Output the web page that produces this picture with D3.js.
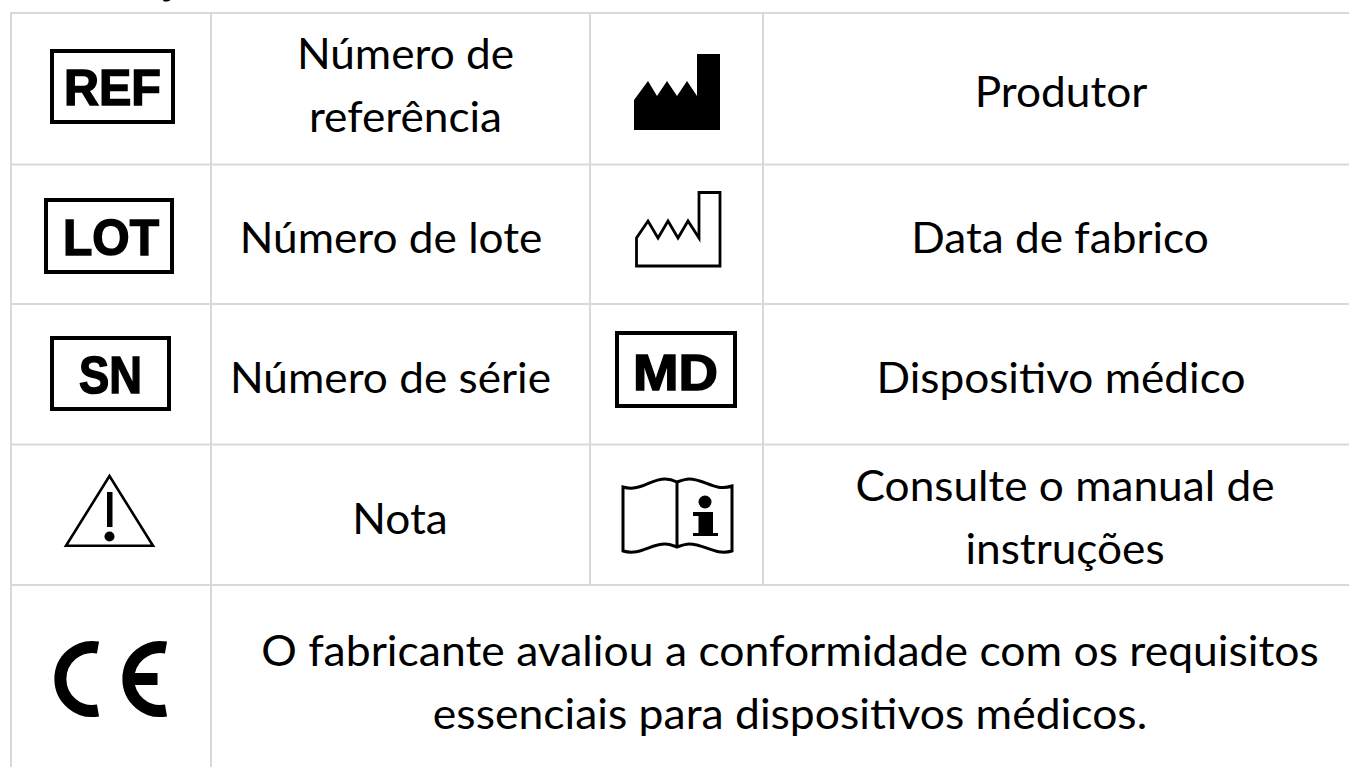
<!DOCTYPE html>
<html><head><meta charset="utf-8">
<script src="https://cdn.jsdelivr.net/npm/d3@7"></script>
<style>html,body{margin:0;background:#fff;overflow:hidden}svg{display:block}</style>
</head><body><svg id="c" width="1349" height="767"></svg>
<script>
const symbolsLeft = ["REF","LOT","SN","warn"];
const labelsLeft = [["Número de","referência"],["Número de lote"],["Número de série"],["Nota"]];
const symbolsRight = ["factoryFill","factoryLine","MD","book"];
const labelsRight = [["Produtor"],["Data de fabrico"],["Dispositivo médico"],["Consulte o manual de","instruções"]];
const footerSymbol = "CE";
const footerLabel = ["O fabricante avaliou a conformidade com os requisitos","essenciais para dispositivos médicos."];

// layout
const W=1349,H=767,LINE="#d9d9d9",FONT="Lato, 'Open Sans', sans-serif",FS=42,SX=1.052;
const xEdges=[11,211,590,763,1349], yEdges=[13,164.5,304,444.5,585,767];
const leftPos=[[405.5,68.7],[391,252.7],[390.5,392.7],[400,534]];
const rightPos=[[1061,106.7],[1060,252.7],[1061,392.7],[1065,500.7]];
const LH=63;

const svg=d3.select("#c");
const g=svg.append("g");

yEdges.slice(0,5).forEach(y=>g.append("line").attr("x1",10).attr("x2",W).attr("y1",y).attr("y2",y).attr("stroke",LINE).attr("stroke-width",2));
[[xEdges[0],13,767],[xEdges[1],13,767],[xEdges[2],13,585],[xEdges[3],13,585]].forEach(([x,a,b])=>
  g.append("line").attr("x1",x).attr("x2",x).attr("y1",a).attr("y2",b).attr("stroke",LINE).attr("stroke-width",2));

svg.append("text").attr("x",170).attr("y",-6).attr("text-anchor","middle").attr("font-family",FONT).attr("font-weight",700).attr("font-size",41).text("j");

function label(lines,cx,y0,fs,sx){
  const t=g.append("g").attr("transform",`translate(${cx},${y0}) scale(${sx},1)`);
  t.selectAll("text").data(lines).join("text")
   .attr("text-anchor","middle").attr("font-family",FONT).attr("font-size",fs).attr("fill","#000")
   .attr("y",(d,i)=>i*LH).text(d=>d);
}
function boxed(code,x,y,w,h,sw,fs,cx,base,len){
  const a=g.append("g");
  a.append("rect").attr("x",x+sw/2).attr("y",y+sw/2).attr("width",w-sw).attr("height",h-sw).attr("fill","#fff").attr("stroke","#000").attr("stroke-width",sw);
  a.append("text").attr("x",cx).attr("y",base).attr("text-anchor","middle").attr("font-family","'Liberation Sans',Arial,sans-serif").attr("font-weight",700).attr("font-size",fs)
   .attr("textLength",len).attr("lengthAdjust","spacingAndGlyphs")
   .attr("stroke","#000").attr("stroke-width",1.5).text(code);
}
const icons={
 REF:()=>boxed("REF",50,49,125,75,4,50,112.5,104.5,97),
 LOT:()=>boxed("LOT",44,198,130,76,4,50,111,254.5,96),
 SN:()=>boxed("SN",50,336,121,75,4,51,110.5,392.5,63),
 MD:()=>boxed("MD",615,331,122,77,4,50,675.5,389.5,85),
 warn:()=>{const a=g.append("g");
   a.append("path").attr("d","M109.5,476 L66,545.8 L153,545.8 Z").attr("fill","none").attr("stroke","#000").attr("stroke-width",2.6);
   a.append("rect").attr("x",107).attr("y",492).attr("width",5.5).attr("height",35);
   a.append("circle").attr("cx",109.5).attr("cy",536.5).attr("r",5);},
 factoryFill:()=>g.append("path").attr("d","M634,130 L634,100 L648,81 L657,96 L667,81 L677,96 L687,81 L697,96 L697,54 L720,54 L720,130 Z").attr("fill","#000"),
 factoryLine:()=>g.append("path").attr("d","M636.5,266 L636.5,238 L648,221 L658,238 L668,221 L678,238 L688,221 L699,238 L699,192.5 L720,192.5 L720,266 Z").attr("fill","#fff").attr("stroke","#000").attr("stroke-width",2.8),
 book:()=>{const a=g.append("g");
   a.append("path").attr("d","M623,487 C640,492 650,479 665,479 C670,479 675,481 677,482 C680,481 685,479 689,479 C705,479 715,492 732,486 L732,551 C715,556 705,544 689,544 C685,544 680,546 677,547 C674,546 670,544 665,544 C650,544 640,556 623,551 Z M677,482 L677,547").attr("fill","#fff").attr("stroke","#000").attr("stroke-width",3);
   a.append("circle").attr("cx",705).attr("cy",502).attr("r",6.5);
   a.append("path").attr("d","M693,512 L713,512 L713,533 L718,533 L718,536 L693,536 L693,533 L698.5,533 L698.5,516 L693,516 Z");},
 CE:()=>{const a=g.append("g");
   a.append("path").attr("d","M98,647.5 A32,32 0 1 0 98,710.5").attr("fill","none").attr("stroke","#000").attr("stroke-width",12);
   a.append("path").attr("d","M166,647.5 A32,32 0 1 0 166,710.5").attr("fill","none").attr("stroke","#000").attr("stroke-width",12);
   a.append("rect").attr("x",128).attr("y",673).attr("width",29.5).attr("height",12);}
};
symbolsLeft.forEach(s=>icons[s]());
symbolsRight.forEach(s=>icons[s]());
icons[footerSymbol]();
labelsLeft.forEach((l,i)=>label(l,leftPos[i][0],leftPos[i][1],FS,SX));
labelsRight.forEach((l,i)=>label(l,rightPos[i][0],rightPos[i][1],FS,SX));
label(footerLabel,790,666,43,1.035);
</script></body></html>
